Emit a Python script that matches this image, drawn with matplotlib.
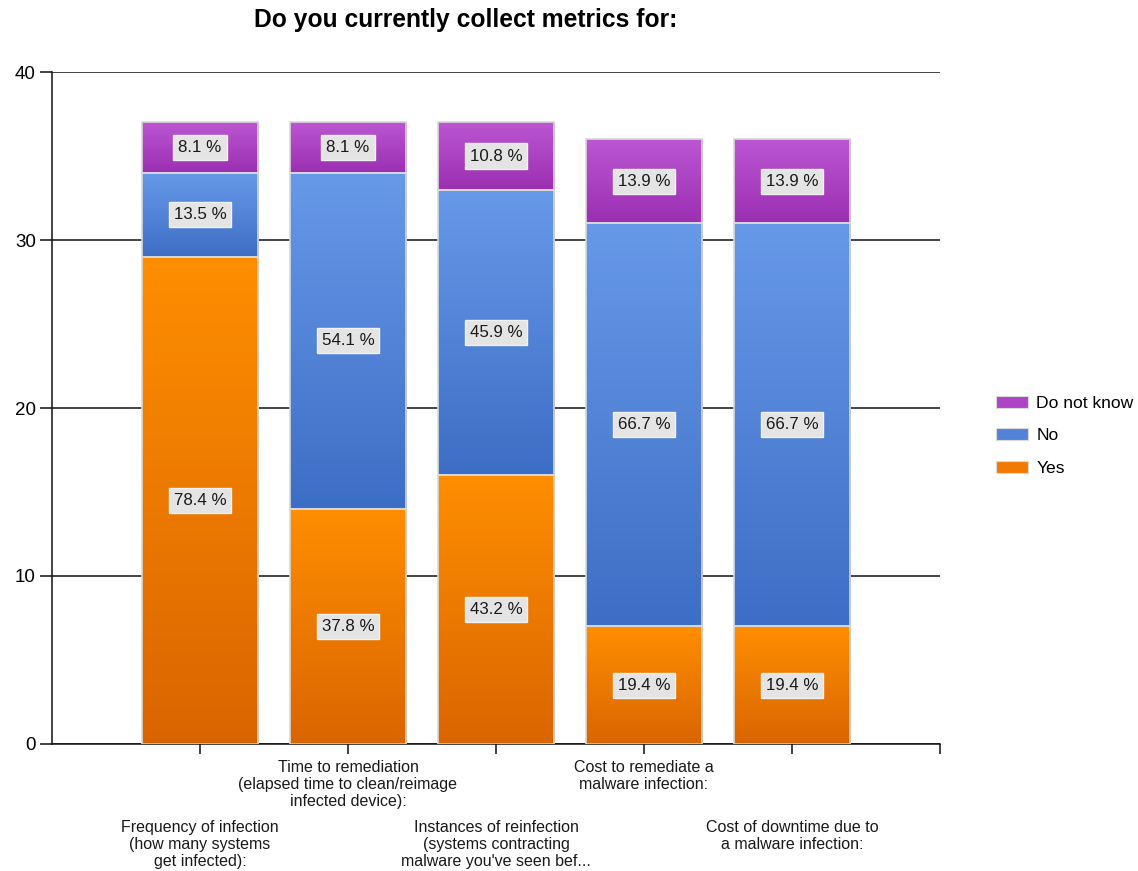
import numpy as np
import matplotlib
matplotlib.use("Agg")
import matplotlib.pyplot as plt
from matplotlib.colors import LinearSegmentedColormap
from matplotlib.patches import Patch

plt.rcParams['font.family'] = ['Liberation Sans', 'DejaVu Sans']

categories = [
    "Frequency of infection\n(how many systems\nget infected):",
    "Time to remediation\n(elapsed time to clean/reimage\ninfected device):",
    "Instances of reinfection\n(systems contracting\nmalware you've seen bef...",
    "Cost to remediate a\nmalware infection:",
    "Cost of downtime due to\na malware infection:",
]
series_names = ["Yes", "No", "Do not know"]
yes_counts = [29, 14, 16, 7, 7]
no_counts = [5, 20, 17, 24, 24]
dnk_counts = [3, 3, 4, 5, 5]
y_ticks = [0, 10, 20, 30, 40]

# (bottom colour, top colour, legend colour) for each series
styles = {
    "Yes": ("#DA6500", "#FF8E00", "#F27A00"),
    "No": ("#3D6EC5", "#6799E9", "#5283D9"),
    "Do not know": ("#9B2FB2", "#BC56D2", "#AE43C6"),
}

fig = plt.figure(figsize=(11.38, 8.71), dpi=100)
ax = fig.add_axes([52 / 1138, 1 - 744 / 871, 888 / 1138, 672 / 871])

x = np.arange(len(categories))
width = 0.79
series = [yes_counts, no_counts, dnk_counts]
totals = np.sum(series, axis=0)
bottoms = np.zeros(len(categories))
grad = np.linspace(0, 1, 256).reshape(-1, 1)

for name, vals in zip(series_names, series):
    vals = np.asarray(vals, dtype=float)
    c_bot, c_top, c_mid = styles[name]
    cmap = LinearSegmentedColormap.from_list(name, [c_bot, c_top])
    bars = ax.bar(x, vals, width, bottom=bottoms, color=c_mid, zorder=2, linewidth=0)
    for patch in bars:
        bb = patch.get_bbox()
        im = ax.imshow(grad, extent=[bb.x0, bb.x1, bb.y0, bb.y1], origin='lower',
                       aspect='auto', cmap=cmap, zorder=2.1, interpolation='bilinear')
        im.set_clip_path(patch)
    ax.bar(x, vals, width, bottom=bottoms, fill=False, edgecolor='#D9D9D9',
           linewidth=1.2, zorder=3)
    for xi, b, v, t in zip(x, bottoms, vals, totals):
        ax.text(xi, b + v / 2, f"{v / t * 100:.1f} %", ha='center', va='center',
                fontsize=12.2, color='#1a1a1a', zorder=5,
                bbox=dict(boxstyle='square,pad=0.3', fc='#E4E4E4', ec='#F2F2F2', lw=1))
    bottoms = bottoms + vals

ax.set_xlim(-1, 5)
ax.set_ylim(0, 40)
ax.set_yticks(y_ticks)
ax.set_yticklabels([str(v) for v in y_ticks], fontsize=13.5)
ax.yaxis.grid(True, color='#111111', linewidth=1.1, zorder=0)
ax.set_axisbelow(True)

ax.set_xticks(list(x) + [5])
ax.set_xticklabels(categories + [""], fontsize=11.5, color='#1a1a1a', linespacing=1.15)
for i, tick in enumerate(ax.xaxis.get_major_ticks()):
    tick.set_pad(4.5 if i % 2 == 1 else 47.5)

ax.tick_params(axis='x', length=7.2, width=1.1, color='#111111')
ax.tick_params(axis='y', length=8.6, width=1.1, color='#111111', pad=3)

for side in ('top', 'right'):
    ax.spines[side].set_visible(False)
for side in ('left', 'bottom'):
    ax.spines[side].set_color('#111111')
    ax.spines[side].set_linewidth(1.1)

fig.text(466 / 1138, 1 - 20 / 871, "Do you currently collect metrics for:",
         ha='center', va='center', fontsize=17.7, fontweight='bold')

handles = [Patch(facecolor=styles[n][2], edgecolor='#D9D9D9', linewidth=0.8)
           for n in series_names[::-1]]
fig.legend(handles, series_names[::-1], loc='upper left',
           bbox_to_anchor=(996 / 1138, 1 - 396 / 871), frameon=False,
           fontsize=12.6, handlelength=1.8, handleheight=0.68, labelspacing=0.98,
           handletextpad=0.5, borderpad=0, borderaxespad=0)

fig.savefig("out.png", dpi=100)
